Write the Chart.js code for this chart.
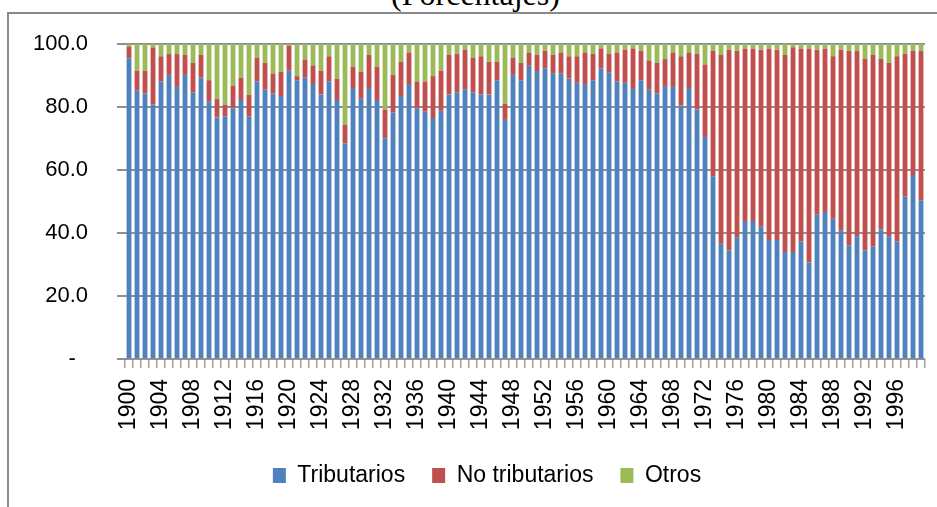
<!DOCTYPE html>
<html>
<head>
<meta charset="utf-8">
<script src="https://cdn.jsdelivr.net/npm/chart.js@4.4.1/dist/chart.umd.min.js"></script>
<style>
    html, body { margin: 0; padding: 0; background: #fff; overflow: hidden; }
    body { width: 937px; height: 507px; position: relative; }
    #title {
        position: absolute; left: 7px; width: 937px; top: -22px;
        text-align: center; font: 32px/32px "Liberation Serif", serif; color: #000;
    }
    #frame {
        position: absolute; left: 7px; top: 12px; width: 940px; height: 510px;
        border-left: 2px solid #8a8a8a; border-top: 2px solid #8a8a8a;
    }
    #chartBox { position: absolute; left: 0; top: 0; width: 931px; height: 495px; }
</style>
</head>
<body>
<div id="title">(Porcentajes)</div>
<div id="frame">
    <div id="chartBox"><canvas id="chart"></canvas></div>
</div>
<script>
// Composición de ingresos 1900-1999 (porcentajes)

const years = [
    1900, 1901, 1902, 1903, 1904, 1905, 1906, 1907, 1908, 1909,
    1910, 1911, 1912, 1913, 1914, 1915, 1916, 1917, 1918, 1919,
    1920, 1921, 1922, 1923, 1924, 1925, 1926, 1927, 1928, 1929,
    1930, 1931, 1932, 1933, 1934, 1935, 1936, 1937, 1938, 1939,
    1940, 1941, 1942, 1943, 1944, 1945, 1946, 1947, 1948, 1949,
    1950, 1951, 1952, 1953, 1954, 1955, 1956, 1957, 1958, 1959,
    1960, 1961, 1962, 1963, 1964, 1965, 1966, 1967, 1968, 1969,
    1970, 1971, 1972, 1973, 1974, 1975, 1976, 1977, 1978, 1979,
    1980, 1981, 1982, 1983, 1984, 1985, 1986, 1987, 1988, 1989,
    1990, 1991, 1992, 1993, 1994, 1995, 1996, 1997, 1998, 1999
];

const tributarios = [
    95.5, 85.2, 84.3, 80.9, 88.1, 90.2, 86.4, 90.2, 84.7, 89.3,
    81.8, 76.7, 77.1, 79.6, 82.2, 77.1, 88.1, 85.5, 84.3, 83.5,
    91.5, 88.5, 89.3, 87.3, 84.0, 88.1, 82.2, 68.4, 86.0, 82.6,
    86.0, 82.2, 70.1, 78.2, 83.5, 87.3, 79.6, 78.5, 76.5, 78.8,
    84.0, 84.7, 85.6, 84.7, 84.0, 84.0, 88.5, 75.9, 90.2, 88.5,
    93.1, 91.4, 92.3, 90.6, 90.6, 89.0, 87.7, 87.3, 88.5, 92.3,
    91.0, 88.1, 87.7, 86.0, 88.5, 85.6, 84.3, 86.4, 86.4, 80.5,
    86.0, 79.2, 70.5, 58.0, 36.6, 34.5, 38.7, 43.8, 43.8, 42.0,
    37.8, 37.8, 34.0, 34.0, 37.3, 30.6, 45.8, 46.7, 44.5, 40.7,
    36.1, 39.0, 34.5, 35.6, 41.1, 39.0, 37.3, 51.6, 58.4, 50.4
];

const noTributarios = [
    3.7, 6.3, 7.2, 18.0, 8.0, 6.6, 10.4, 6.3, 9.3, 7.2,
    6.7, 5.8, 3.6, 7.2, 7.1, 6.8, 7.6, 8.5, 6.3, 7.6,
    8.0, 1.3, 5.8, 5.9, 7.5, 8.0, 6.8, 5.9, 6.8, 8.5,
    10.5, 10.6, 9.1, 12.0, 10.9, 10.0, 8.5, 9.6, 13.3, 12.7,
    12.5, 12.2, 12.6, 11.0, 12.1, 10.4, 5.9, 5.1, 5.5, 5.5,
    4.2, 5.1, 5.5, 5.9, 6.7, 7.1, 8.4, 10.0, 8.4, 6.3,
    5.9, 9.2, 10.5, 12.6, 9.3, 9.2, 9.7, 8.8, 10.9, 15.6,
    11.3, 17.7, 23.0, 39.8, 59.9, 63.7, 59.1, 54.8, 54.8, 56.2,
    60.8, 60.4, 62.5, 65.0, 61.3, 68.0, 52.4, 51.9, 51.6, 57.5,
    61.7, 58.8, 60.7, 60.9, 54.1, 55.0, 58.8, 45.3, 39.4, 47.4
];

const otros = [
    0.8, 8.5, 8.5, 1.1, 3.9, 3.2, 3.2, 3.5, 6.0, 3.5,
    11.5, 17.5, 19.3, 13.2, 10.7, 16.1, 4.3, 6.0, 9.4, 8.9,
    0.5, 10.2, 4.9, 6.8, 8.5, 3.9, 11.0, 25.7, 7.2, 8.9,
    3.5, 7.2, 20.8, 9.8, 5.6, 2.7, 11.9, 11.9, 10.2, 8.5,
    3.5, 3.1, 1.8, 4.3, 3.9, 5.6, 5.6, 19.0, 4.3, 6.0,
    2.7, 3.5, 2.2, 3.5, 2.7, 3.9, 3.9, 2.7, 3.1, 1.4,
    3.1, 2.7, 1.8, 1.4, 2.2, 5.2, 6.0, 4.8, 2.7, 3.9,
    2.7, 3.1, 6.5, 2.2, 3.5, 1.8, 2.2, 1.4, 1.4, 1.8,
    1.4, 1.8, 3.5, 1.0, 1.4, 1.4, 1.8, 1.4, 3.9, 1.8,
    2.2, 2.2, 4.8, 3.5, 4.8, 6.0, 3.9, 3.1, 2.2, 2.2
];

const yTicks = [0, 20, 40, 60, 80, 100];

const gridColor = '#8f8f8f';
const font = 'Liberation Sans';

// nudge the legend a bit to the right, like in the original
const legendShift = {
    id: 'legendShift',
    afterLayout(chart) {
        chart.legend.left += 20;
        chart.legend.right += 20;
    }
};

const ctx = document.getElementById('chart').getContext('2d');

new Chart(ctx, {
    type: 'bar',
    data: {
        labels: years,
        datasets: [
            { label: 'Tributarios', data: tributarios, backgroundColor: '#4f81bd' },
            { label: 'No tributarios', data: noTributarios, backgroundColor: '#c0504d' },
            { label: 'Otros', data: otros, backgroundColor: '#9bbb59' }
        ]
    },
    plugins: [legendShift],
    options: {
        responsive: true,
        maintainAspectRatio: false,
        animation: false,
        datasets: {
            bar: { categoryPercentage: 1, barPercentage: 0.6 }
        },
        layout: {
            padding: { top: 30, right: 15, bottom: 12, left: 0 }
        },
        plugins: {
            legend: {
                position: 'bottom',
                labels: {
                    color: '#000',
                    font: { family: font, size: 23 },
                    boxWidth: 13,
                    boxHeight: 15,
                    padding: 27
                }
            },
            tooltip: { enabled: false }
        },
        scales: {
            x: {
                stacked: true,
                border: { display: false },
                afterFit: (scale) => {
                    scale.height = 78;
                    scale.paddingLeft = 0;
                    scale.paddingRight = 0;
                },
                grid: {
                    offset: true,
                    drawOnChartArea: false,
                    tickLength: 9,
                    color: '#a0a0a0',
                    lineWidth: 1.5
                },
                ticks: {
                    autoSkip: false,
                    maxRotation: 90,
                    minRotation: 90,
                    padding: 11,
                    color: '#000',
                    font: { family: font, size: 23 },
                    callback: (value, index) => index % 4 === 0 ? years[index] : ''
                }
            },
            y: {
                stacked: true,
                min: 0,
                max: 100,
                border: { display: false },
                afterFit: (scale) => {
                    scale.width = 116;
                    scale.paddingTop = 0;
                    scale.paddingBottom = 0;
                },
                afterBuildTicks: (scale) => { scale.ticks = yTicks.map(v => ({ value: v })); },
                grid: {
                    color: gridColor,
                    lineWidth: 2,
                    tickLength: 8
                },
                ticks: {
                    padding: 29,
                    color: '#000',
                    font: { family: font, size: 22 },
                    callback: (value) => value === 0 ? '-  ' : value.toFixed(1)
                }
            }
        }
    }
});
</script>
</body>
</html>
